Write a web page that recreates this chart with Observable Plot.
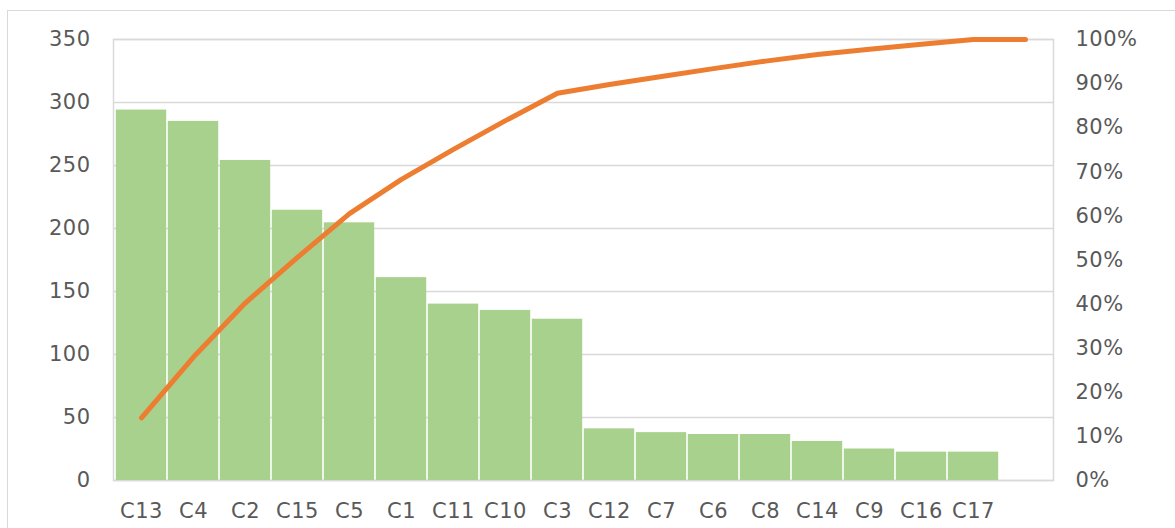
<!DOCTYPE html>
<html><head><meta charset="utf-8">
<script src="https://cdn.jsdelivr.net/npm/d3@7"></script>
<script src="https://cdn.jsdelivr.net/npm/@observablehq/plot@0.6"></script>
<style>
body{margin:0;background:#fff;overflow:hidden;width:1175px;height:528px;}
#frame{position:absolute;left:7px;top:10px;width:1200px;height:600px;border:1px solid #d9d9d9;}
#chart{position:absolute;left:0;top:0;}
</style></head><body>
<div id="frame"></div><div id="chart"></div>
<script>
const categories = ["C13","C4","C2","C15","C5","C1","C11","C10","C3","C12","C7","C6","C8","C14","C9","C16","C17"];
const counts = [294,285,254,214.5,204.5,161,140,135,128,41,38,36.5,36.5,31,25,22.5,22.5];
// cumulative percentage line (one extra trailing point in the empty last slot)
const cumulativePct = [14.2,28.0,40.3,50.6,60.5,68.3,75.1,81.6,87.8,89.8,91.6,93.4,95.1,96.6,97.8,98.9,100,100];
const leftTicks = [0,50,100,150,200,250,300,350];
const rightTicks = [0,10,20,30,40,50,60,70,80,90,100];
const emptySlot = " ";

const slots = categories.concat([emptySlot]);
const barData = categories.map((c,i)=>({cat:c, count:counts[i]}));
const lineData = slots.map((c,i)=>({cat:c, pct:cumulativePct[i]}));
const k = 350/100; // right axis 0–100% shares the 0–350 range

const chart = Plot.plot({
  width: 1175,
  height: 528,
  marginLeft: 113,
  marginRight: 122,
  marginTop: 39,
  marginBottom: 48,
  style: {fontFamily: "DejaVu Sans", fontSize: "21px", color: "#595959", background: "transparent", letterSpacing: "0.5px"},
  x: {type: "band", domain: slots, padding: 0, label: null},
  y: {domain: [0, 350], label: null},
  marks: [
    Plot.gridY(leftTicks, {stroke: "#d9d9d9", strokeOpacity: 1, strokeWidth: 1.5}),
    Plot.frame({stroke: "#d9d9d9", strokeWidth: 1.5}),
    Plot.barY(barData, {x: "cat", y: "count", fill: "#a9d18e", insetLeft: 0.8, insetRight: 0.8}),
    Plot.lineY(lineData, {x: "cat", y: d => d.pct * k, stroke: "#ed7d31", strokeWidth: 5, strokeLinecap: "round", strokeLinejoin: "round"}),
    Plot.axisY(leftTicks, {anchor: "left", tickSize: 0, tickPadding: 23, label: null}),
    Plot.axisY(rightTicks.map(t => t * k), {anchor: "right", tickSize: 0, tickPadding: 22, label: null, tickFormat: (d, i) => rightTicks[i] + "%"}),
    Plot.axisX({anchor: "bottom", tickSize: 0, tickPadding: 23, label: null})
  ]
});
document.getElementById("chart").appendChild(chart);
</script>
</body></html>
